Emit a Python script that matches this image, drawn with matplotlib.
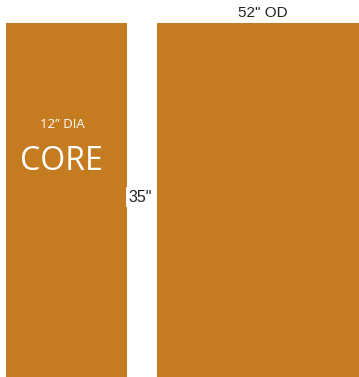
import matplotlib
matplotlib.use("Agg")
import matplotlib.pyplot as plt

# diagram values
parts = ["core", "outer"]
heights = [35, 35]
labels_top = ["12\u201d DIA", "52\" OD"]
height_label = "35\""
core_label = "CORE"

color = "#C57C20"

fig = plt.figure(figsize=(3.59, 3.77), dpi=100)
ax = fig.add_axes([0, 0, 1, 1])

# bars in pixel-like x positions
xs = [66.5, 258]
ws = [121, 202]
ax.bar(xs, heights, width=ws, color=color, bottom=0)

top = 35 * 377 / 354.0
ax.set_xlim(0, 359)
ax.set_ylim(0, top)
ax.axis("off")

def py(p):
    # pixel row -> data y
    return top * (1 - p / 377.0)

ax.text(62, py(125), labels_top[0], color="white", fontsize=9.5,
        family="Open Sans", ha="center", va="center")
ax.text(61.5, py(161), core_label, color="white", fontsize=23,
        family="Open Sans", ha="center", va="center")
ax.text(263, py(13), labels_top[1], color="#222222", fontsize=11,
        family="Liberation Sans", ha="center", va="center")
ax.text(140.5, py(197), height_label, color="#222222", fontsize=11.5,
        family="Liberation Sans", ha="center", va="center",
        bbox=dict(facecolor="white", edgecolor="none", pad=1.8))

fig.savefig("out.png", dpi=100)
